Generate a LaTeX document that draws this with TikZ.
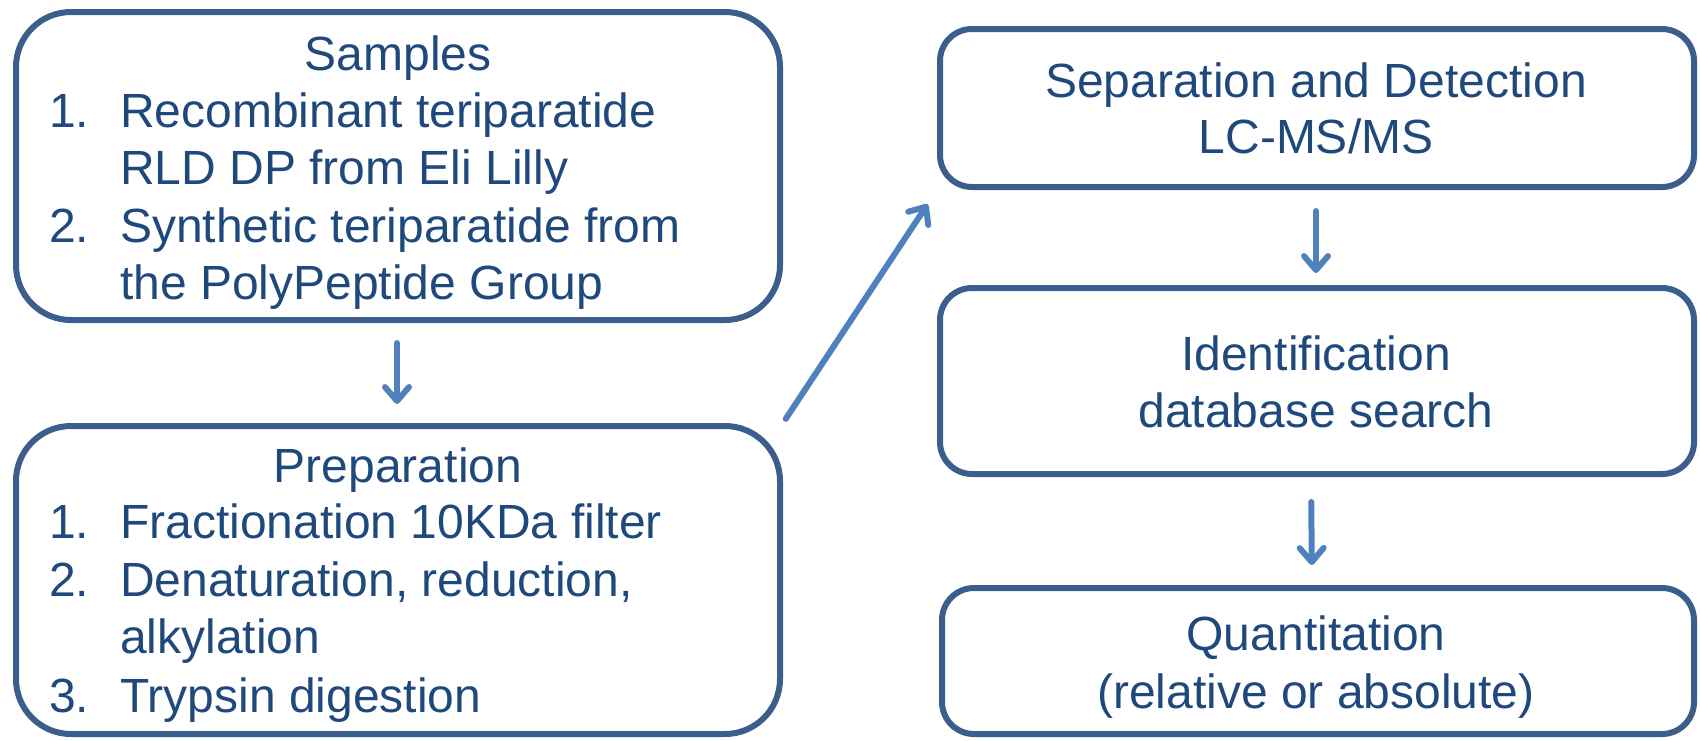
\documentclass[tikz,border=0pt]{standalone}
\usepackage{fontspec}
\setmainfont{Liberation Sans}
\usetikzlibrary{arrows.meta}
\definecolor{boxborder}{HTML}{3B5E8C}
\definecolor{txt}{HTML}{1F497D}
\definecolor{arrowc}{HTML}{4F81BD}
\begin{document}
\begin{tikzpicture}[x=1pt,y=-1pt,
  box/.style={draw=boxborder, line width=6pt, rounded corners=#1, inner sep=0pt},
  lbl/.style={text=txt, font=\fontsize{48}{57}\selectfont, anchor=base, inner sep=0pt},
  item/.style={lbl, anchor=base west},
  flow/.style={draw=arrowc, line width=6pt, line cap=round, -{Straight Barb[length=14pt,width=24pt,line cap=round,line join=round]}}
]
\useasboundingbox (0,0) rectangle (1700,740);
% boxes
\node[box=55pt, minimum width=764pt, minimum height=308pt] (samples) at (398,166) {};
\node[box=55pt, minimum width=764pt, minimum height=308pt] (prep) at (398,580) {};
\node[box=32pt, minimum width=754pt, minimum height=158pt] (sep) at (1317,108) {};
\node[box=32pt, minimum width=754pt, minimum height=186pt] (ident) at (1317,381) {};
\node[box=32pt, minimum width=752pt, minimum height=146pt] (quant) at (1318,661) {};
% samples text
\node[lbl] (samplesT) at (398,70) {Samples};
\node[item] (s1n) at (49,127) {1.};
\node[item] (s1a) at (120,127) {Recombinant teriparatide};
\node[item] (s1b) at (120,184) {RLD DP from Eli Lilly};
\node[item] (s2n) at (49,242) {2.};
\node[item] (s2a) at (120,242) {Synthetic teriparatide from};
\node[item] (s2b) at (120,299) {the PolyPeptide Group};
% preparation text
\node[lbl] (prepT) at (398,482) {Preparation};
\node[item] (p1n) at (49,538) {1.};
\node[item] (p1a) at (120,538) {Fractionation 10KDa filter};
\node[item] (p2n) at (49,596) {2.};
\node[item] (p2a) at (120,596) {Denaturation, reduction,};
\node[item] (p2b) at (120,653) {alkylation};
\node[item] (p3n) at (49,712) {3.};
\node[item] (p3a) at (120,712) {Trypsin digestion};
% right column text
\node[lbl] (sepT1) at (1316,97) {Separation and Detection};
\node[lbl] (sepT2) at (1316,153) {LC-MS/MS};
\node[lbl] (idT1) at (1316,370) {Identification};
\node[lbl] (idT2) at (1316,427) {database search};
\node[lbl] (qT1) at (1316,650) {Quantitation};
\node[lbl] (qT2) at (1316,708) {(relative or absolute)};
% connectors
\draw[flow, shorten <=20pt, shorten >=19pt] ([xshift=-1pt]samples.south) -- ([xshift=-1pt]prep.north);
\draw[flow, shorten <=5pt, shorten >=17pt] (prep.north east) -- (sep.south west);
\draw[flow, shorten <=21pt, shorten >=12pt] ([xshift=-1pt]sep.south) -- ([xshift=-1pt]ident.north);
\draw[flow, shorten <=25pt, shorten >=20pt] ([xshift=-6pt]ident.south) -- ([xshift=-6pt]quant.north);
\end{tikzpicture}
\end{document}
